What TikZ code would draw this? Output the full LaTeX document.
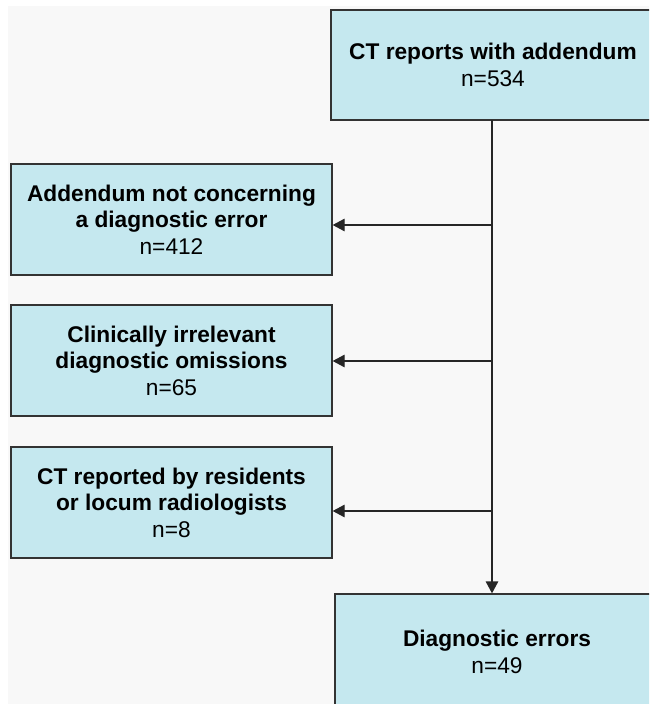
\documentclass[tikz,border=0pt]{standalone}
\usepackage{fontspec}
\setmainfont{Liberation Sans}
\usetikzlibrary{arrows.meta}
\definecolor{boxfill}{HTML}{C5E8EF}
\definecolor{boxline}{HTML}{333333}
\definecolor{pagebg}{HTML}{F8F8F8}

\begin{document}
\begin{tikzpicture}[
  x=1pt, y=-1pt,
  >={Triangle[length=12pt,width=12.5pt]},
  box/.style={draw=boxline, line width=1.3pt, fill=boxfill, inner sep=0pt,
    minimum width=321pt, minimum height=111pt, align=center,
    font=\fontsize{22.7}{26.5}\selectfont},
  arr/.style={->, line width=1.3pt, draw=black!85, fill=black!85}
]
  \useasboundingbox (0,0) rectangle (649,704);
  \clip (0,0) rectangle (649,704);
  % Hintergrund
  \fill[pagebg] (8,6) rectangle (649,704);

  % Kaesten
  \node[box, minimum width=324pt, minimum height=110pt] (total) at (493,65)
    {\textbf{CT reports with addendum}\\n=534};
  \node[box] (noerr) at (171.5,219.5)
    {\textbf{Addendum not concerning}\\\textbf{a diagnostic error}\\n=412};
  \node[box] (irrel) at (171.5,360.5)
    {\textbf{Clinically irrelevant}\\\textbf{diagnostic omissions}\\n=65};
  \node[box] (resid) at (171.5,502.5)
    {\textbf{CT reported by residents}\\\textbf{or locum radiologists}\\n=8};
  \node[box, minimum width=324pt, minimum height=116pt] (errors) at (497,652)
    {\textbf{Diagnostic errors}\\n=49};

  % Abzweigungen am Hauptstrang
  \coordinate (top) at (492,120);
  \coordinate (j1) at (492,225);
  \coordinate (j2) at (492,361);
  \coordinate (j3) at (492,511);
  \draw[arr] (top) -- (top |- errors.north);
  \draw[arr] (j1) -- (j1 -| noerr.east);
  \draw[arr] (j2) -- (j2 -| irrel.east);
  \draw[arr] (j3) -- (j3 -| resid.east);
\end{tikzpicture}
\end{document}
